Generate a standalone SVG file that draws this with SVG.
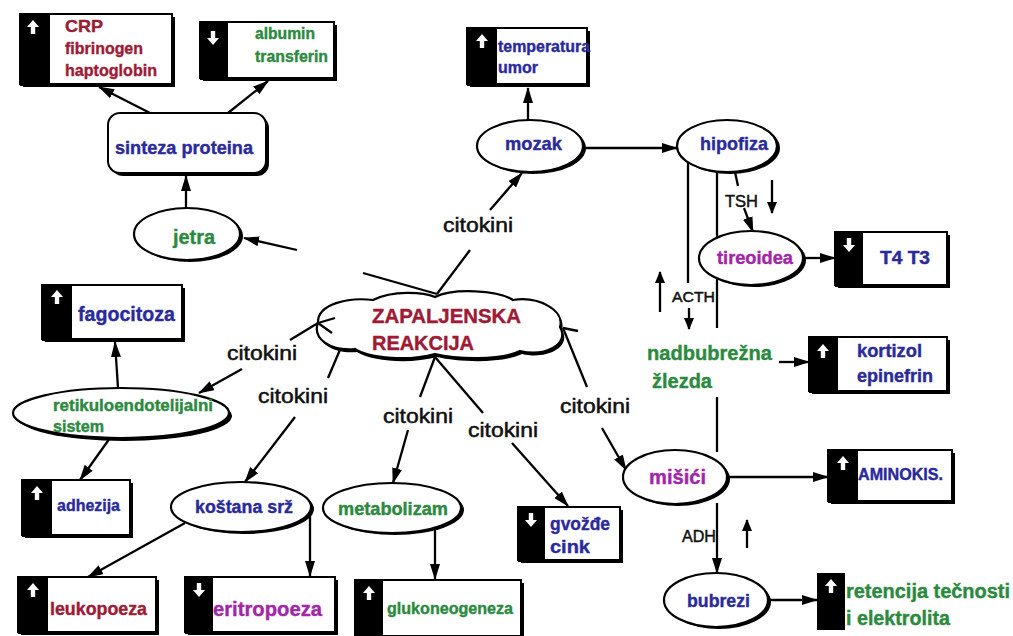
<svg xmlns="http://www.w3.org/2000/svg" width="1013" height="636" viewBox="0 0 1013 636">
<style>
.bx{fill:#fff;stroke:#000;stroke-width:2}
.sh{fill:#000}
.bd{fill:#000}
.el{fill:#fff;stroke:#000;stroke-width:2.2}
.ln{fill:none;stroke:#000;stroke-width:2.3}
.ar{fill:none;stroke:#000;stroke-width:2.3;marker-end:url(#ah)}
.as{fill:none;stroke:#000;stroke-width:2.3;marker-end:url(#ahs)}
text{font-family:"Liberation Sans Narrow","Liberation Sans",Arial,sans-serif;font-weight:bold;stroke-width:0.4}
.b{fill:#2a2a9c;stroke:#2a2a9c}.r{fill:#9e1a35;stroke:#9e1a35}.g{fill:#2b8a3e;stroke:#2b8a3e}.m{fill:#a226a8;stroke:#a226a8}
.k{fill:#111;stroke:#111;font-weight:normal;stroke-width:0.5}
</style>
<defs>
<marker id="ah" markerUnits="userSpaceOnUse" markerWidth="16" markerHeight="10" refX="15" refY="5" orient="auto"><path d="M0,0 L16,5 L0,10 Z" fill="#000"/></marker>
<marker id="ahs" markerUnits="userSpaceOnUse" markerWidth="12" markerHeight="10" refX="11" refY="5" orient="auto"><path d="M0,0 L12,5 L0,10 Z" fill="#000"/></marker>
<symbol id="up" viewBox="-6 -7 12 14" width="12" height="14"><path d="M0,-7 L6,0 L2.2,0 L2.2,7 L-2.2,7 L-2.2,0 L-6,0 Z" fill="#fff"/></symbol>
<symbol id="dn" viewBox="-6 -7 12 14" width="12" height="14"><path d="M0,7 L6,0 L2.2,0 L2.2,-7 L-2.2,-7 L-2.2,0 L-6,0 Z" fill="#fff"/></symbol>
</defs>

<g id="connectors">
<path class="ar" d="M150,113 L99,87"/>
<path class="ar" d="M228,113 L268,81"/>
<path class="ar" d="M186,208 L186,176"/>
<path class="ar" d="M297,250 L244,238"/>
<path class="ln" d="M363,273 L437,294"/>
<path class="ln" d="M437,294 L470,250"/>
<path class="ar" d="M490,210 L522,173"/>
<path class="ar" d="M528,120 L528,88"/>
<path class="ar" d="M585,148 L677,148"/>
<path class="ar" d="M118,388 L115,342"/>
<path class="ar" d="M110,438 L80,480"/>
<path class="ln" d="M318,323 L290,340"/>
<path class="ar" d="M242,369 L199,393"/>
<path class="ln" d="M342,345 L328,378"/>
<path class="ar" d="M295,417 L245,482"/>
<path class="ln" d="M435,357 L420,397"/>
<path class="ar" d="M408,430 L393,483"/>
<path class="ln" d="M435,357 L483,413"/>
<path class="ar" d="M512,443 L568,506"/>
<path class="ln" d="M563,328 L587,387"/>
<path class="ar" d="M602,428 L626,470"/>
<path class="ar" d="M185,523 L88,577"/>
<path class="ar" d="M310,512 L310,576"/>
<path class="ar" d="M435,527 L435,579"/>
<path class="ln" d="M688,162 L688,283"/>
<path class="ln" d="M717,172 L717,328"/>
<path class="ln" d="M717,397 L717,452"/>
<path class="ln" d="M735,172 L738,186"/>
<path class="ar" d="M744,208 L753,232"/>
<path class="as" d="M772,180 L772,213"/>
<path class="as" d="M660,312 L660,272"/>
<path class="as" d="M689,308 L689,329"/>
<path class="as" d="M747,548 L747,520"/>
<path class="ar" d="M803,258 L835,258"/>
<path class="ar" d="M779,362 L809,362"/>
<path class="ar" d="M727,477 L828,477"/>
<path class="ar" d="M717,503 L717,573"/>
<path class="ar" d="M768,600 L817,600"/>
</g>

<g id="n-crp">
<rect class="sh" x="23" y="17" width="152" height="70"/>
<rect class="bx" x="20" y="14" width="152" height="70"/>
<rect class="bd" x="20" y="14" width="30" height="72"/>
<use href="#up" x="27" y="20"/>
<text class="r" x="65" y="32" font-size="17" textLength="38" lengthAdjust="spacingAndGlyphs">CRP</text>
<text class="r" x="65" y="54" font-size="17" textLength="78" lengthAdjust="spacingAndGlyphs">fibrinogen</text>
<text class="r" x="65" y="76" font-size="17" textLength="92" lengthAdjust="spacingAndGlyphs">haptoglobin</text>
</g>

<g id="n-albumin">
<rect class="sh" x="203" y="25" width="134" height="56"/>
<rect class="bx" x="200" y="22" width="134" height="56"/>
<rect class="bd" x="200" y="22" width="28" height="58"/>
<use href="#dn" x="207" y="31"/>
<text class="g" x="255" y="39" font-size="17" textLength="60" lengthAdjust="spacingAndGlyphs">albumin</text>
<text class="g" x="255" y="62" font-size="17" textLength="73" lengthAdjust="spacingAndGlyphs">transferin</text>
</g>

<g id="n-sinteza">
<rect class="sh" x="111" y="116" width="158" height="60" rx="12"/>
<rect class="bx" x="108" y="113" width="158" height="60" rx="12"/>
<text class="b" x="115" y="154" font-size="18" textLength="138" lengthAdjust="spacingAndGlyphs">sinteza proteina</text>
</g>

<g id="n-jetra">
<ellipse class="sh" cx="190" cy="236" rx="53" ry="26"/>
<ellipse class="el" cx="187" cy="234" rx="53" ry="26"/>
<text class="g" x="173" y="244" font-size="21" textLength="42" lengthAdjust="spacingAndGlyphs">jetra</text>
</g>

<g id="n-temperatura">
<rect class="sh" x="470" y="31" width="120" height="56"/>
<rect class="bx" x="467" y="28" width="120" height="56"/>
<rect class="bd" x="467" y="28" width="30" height="58"/>
<use href="#up" x="476" y="34"/>
<text class="b" x="498" y="52" font-size="16" textLength="92" lengthAdjust="spacingAndGlyphs">temperatura</text>
<text class="b" x="498" y="73" font-size="16" textLength="40" lengthAdjust="spacingAndGlyphs">umor</text>
</g>

<g id="n-mozak">
<ellipse class="sh" cx="533" cy="148" rx="53" ry="26"/>
<ellipse class="el" cx="530" cy="146" rx="53" ry="26"/>
<text class="b" x="505" y="150" font-size="19" textLength="57" lengthAdjust="spacingAndGlyphs">mozak</text>
</g>

<g id="n-hipofiza">
<ellipse class="sh" cx="730" cy="148" rx="50" ry="26"/>
<ellipse class="el" cx="727" cy="146" rx="50" ry="26"/>
<text class="b" x="700" y="150" font-size="19" textLength="68" lengthAdjust="spacingAndGlyphs">hipofiza</text>
</g>

<text id="l-tsh" class="k" x="725" y="207" font-size="17" textLength="33" lengthAdjust="spacingAndGlyphs">TSH</text>

<g id="n-tireoidea">
<ellipse class="sh" cx="754" cy="260" rx="52" ry="27"/>
<ellipse class="el" cx="751" cy="258" rx="52" ry="27"/>
<text class="m" x="717" y="264" font-size="18" textLength="76" lengthAdjust="spacingAndGlyphs">tireoidea</text>
</g>

<g id="n-t4t3">
<rect class="sh" x="838" y="235" width="112" height="53"/>
<rect class="bx" x="835" y="232" width="112" height="53"/>
<rect class="bd" x="835" y="232" width="28" height="55"/>
<use href="#dn" x="843" y="238"/>
<text class="b" x="880" y="264" font-size="18" textLength="50" lengthAdjust="spacingAndGlyphs">T4 T3</text>
</g>

<text id="l-acth" class="k" x="672" y="302" font-size="15" textLength="43" lengthAdjust="spacingAndGlyphs">ACTH</text>

<g id="n-nadbubrezna">
<text class="g" x="647" y="360" font-size="21" textLength="125" lengthAdjust="spacingAndGlyphs">nadbubrežna</text>
<text class="g" x="652" y="388" font-size="21" textLength="60" lengthAdjust="spacingAndGlyphs">žlezda</text>
</g>

<g id="n-kortizol">
<rect class="sh" x="812" y="340" width="138" height="54"/>
<rect class="bx" x="809" y="337" width="138" height="54"/>
<rect class="bd" x="809" y="337" width="29" height="56"/>
<use href="#up" x="817" y="344"/>
<text class="b" x="857" y="357" font-size="18" textLength="65" lengthAdjust="spacingAndGlyphs">kortizol</text>
<text class="b" x="857" y="382" font-size="18" textLength="76" lengthAdjust="spacingAndGlyphs">epinefrin</text>
</g>

<g id="n-misici">
<ellipse class="sh" cx="678" cy="479" rx="52" ry="27"/>
<ellipse class="el" cx="675" cy="477" rx="52" ry="27"/>
<text class="m" x="649" y="484" font-size="20" textLength="57" lengthAdjust="spacingAndGlyphs">mišići</text>
</g>

<g id="n-aminokis">
<rect class="sh" x="831" y="453" width="124" height="51"/>
<rect class="bx" x="828" y="450" width="124" height="51"/>
<rect class="bd" x="828" y="450" width="30" height="53"/>
<use href="#up" x="837" y="456"/>
<text class="b" x="858" y="480" font-size="16" textLength="85" lengthAdjust="spacingAndGlyphs">AMINOKIS.</text>
</g>

<text id="l-adh" class="k" x="682" y="542" font-size="17" textLength="34" lengthAdjust="spacingAndGlyphs">ADH</text>

<g id="n-bubrezi">
<ellipse class="sh" cx="719" cy="602" rx="52" ry="27"/>
<ellipse class="el" cx="716" cy="600" rx="52" ry="27"/>
<text class="b" x="687" y="607" font-size="19" textLength="63" lengthAdjust="spacingAndGlyphs">bubrezi</text>
</g>

<g id="n-retencija">
<rect class="bd" x="817" y="573" width="28" height="57"/>
<use href="#up" x="825" y="579"/>
<text class="g" x="846" y="598" font-size="20" textLength="164" lengthAdjust="spacingAndGlyphs">retencija tečnosti</text>
<text class="g" x="846" y="625" font-size="20" textLength="104" lengthAdjust="spacingAndGlyphs">i elektrolita</text>
</g>

<g id="n-zapaljenska">
<path d="M320,325 C320,306 350,299 375,302 C395,292 425,294 437,299 C455,290 500,292 515,302 C540,298 567,312 562,330 C572,347 547,360 522,354 C502,364 457,362 437,357 C412,364 372,362 357,352 C332,354 314,342 320,325 Z" fill="#000"/>
<path d="M318,322 C318,304 348,297 373,300 C393,290 423,292 435,297 C453,288 498,290 513,300 C538,296 565,310 560,327 C570,344 545,357 520,351 C500,361 455,359 435,354 C410,361 370,359 355,349 C330,351 312,339 318,322 Z" fill="#fff" stroke="#000" stroke-width="2.2"/>
<path class="ln" d="M318,323 L335,318 M318,323 L332,333 M563,328 L578,331"/>
<text class="r" x="372" y="323" font-size="21" textLength="149" lengthAdjust="spacingAndGlyphs">ZAPALJENSKA</text>
<text class="r" x="372" y="350" font-size="21" textLength="102" lengthAdjust="spacingAndGlyphs">REAKCIJA</text>
</g>

<g id="n-fagocitoza">
<rect class="sh" x="45" y="288" width="140" height="54"/>
<rect class="bx" x="42" y="285" width="140" height="54"/>
<rect class="bd" x="42" y="285" width="30" height="56"/>
<use href="#up" x="51" y="290"/>
<text class="b" x="78" y="321" font-size="21" textLength="97" lengthAdjust="spacingAndGlyphs">fagocitoza</text>
</g>

<g id="n-retikulo">
<ellipse class="sh" cx="124" cy="416" rx="108" ry="25"/>
<ellipse class="el" cx="121" cy="413" rx="108" ry="25"/>
<text class="g" x="53" y="411" font-size="16" textLength="160" lengthAdjust="spacingAndGlyphs">retikuloendotelijalni</text>
<text class="g" x="53" y="432" font-size="16" textLength="51" lengthAdjust="spacingAndGlyphs">sistem</text>
</g>

<g id="n-adhezija">
<rect class="sh" x="25" y="483" width="108" height="55"/>
<rect class="bx" x="22" y="480" width="108" height="55"/>
<rect class="bd" x="22" y="480" width="30" height="57"/>
<use href="#up" x="31" y="486"/>
<text class="b" x="57" y="511" font-size="17" textLength="63" lengthAdjust="spacingAndGlyphs">adhezija</text>
</g>

<g id="n-kostana">
<ellipse class="sh" cx="244" cy="509" rx="70" ry="25"/>
<ellipse class="el" cx="241" cy="507" rx="70" ry="25"/>
<text class="b" x="195" y="513" font-size="18" textLength="98" lengthAdjust="spacingAndGlyphs">koštana srž</text>
</g>

<g id="n-metabolizam">
<ellipse class="sh" cx="395" cy="510" rx="69" ry="25"/>
<ellipse class="el" cx="392" cy="508" rx="69" ry="25"/>
<text class="g" x="338" y="515" font-size="18" textLength="110" lengthAdjust="spacingAndGlyphs">metabolizam</text>
</g>

<g id="n-leukopoeza">
<rect class="sh" x="21" y="580" width="138" height="55"/>
<rect class="bx" x="18" y="577" width="138" height="55"/>
<rect class="bd" x="18" y="577" width="30" height="57"/>
<use href="#up" x="27" y="583"/>
<text class="r" x="50" y="615" font-size="19" textLength="97" lengthAdjust="spacingAndGlyphs">leukopoeza</text>
</g>

<g id="n-eritropoeza">
<rect class="sh" x="188" y="580" width="150" height="55"/>
<rect class="bx" x="185" y="577" width="150" height="55"/>
<rect class="bd" x="185" y="577" width="28" height="57"/>
<use href="#dn" x="193" y="583"/>
<text class="m" x="213" y="616" font-size="21" textLength="109" lengthAdjust="spacingAndGlyphs">eritropoeza</text>
</g>

<g id="n-gluko">
<rect class="sh" x="358" y="583" width="166" height="56"/>
<rect class="bx" x="355" y="580" width="166" height="56"/>
<rect class="bd" x="355" y="580" width="28" height="58"/>
<use href="#up" x="363" y="586"/>
<text class="g" x="387" y="614" font-size="16" textLength="126" lengthAdjust="spacingAndGlyphs">glukoneogeneza</text>
</g>

<g id="n-gvozde">
<rect class="sh" x="521" y="510" width="102" height="53"/>
<rect class="bx" x="518" y="507" width="102" height="53"/>
<rect class="bd" x="518" y="507" width="27" height="55"/>
<use href="#dn" x="525" y="513"/>
<text class="b" x="550" y="530" font-size="19" textLength="60" lengthAdjust="spacingAndGlyphs">gvožđe</text>
<text class="b" x="550" y="553" font-size="19" textLength="40" lengthAdjust="spacingAndGlyphs">cink</text>
</g>

<g id="labels">
<text class="k" x="227" y="360" font-size="20" textLength="70" lengthAdjust="spacingAndGlyphs">citokini</text>
<text class="k" x="258" y="403" font-size="20" textLength="70" lengthAdjust="spacingAndGlyphs">citokini</text>
<text class="k" x="383" y="423" font-size="20" textLength="70" lengthAdjust="spacingAndGlyphs">citokini</text>
<text class="k" x="468" y="437" font-size="20" textLength="70" lengthAdjust="spacingAndGlyphs">citokini</text>
<text class="k" x="560" y="413" font-size="20" textLength="70" lengthAdjust="spacingAndGlyphs">citokini</text>
<text class="k" x="443" y="232" font-size="20" textLength="70" lengthAdjust="spacingAndGlyphs">citokini</text>
</g>
</svg>
